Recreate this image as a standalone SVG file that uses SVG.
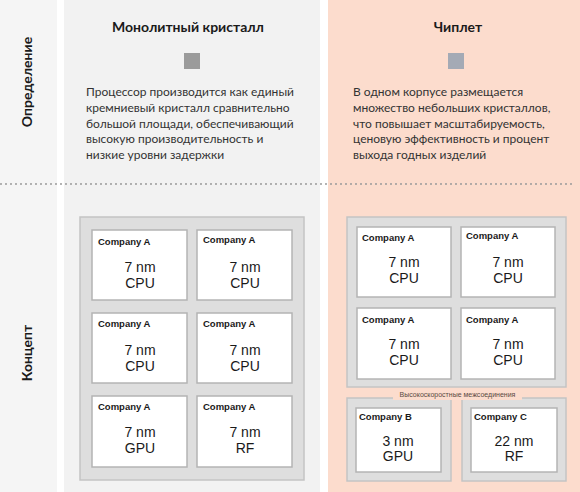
<svg xmlns="http://www.w3.org/2000/svg" width="580" height="492" viewBox="0 0 580 492">
<style>
.hdr{font-family:Lato,"Noto Sans",sans-serif;font-weight:bold;font-size:14px;fill:#1a1a1a;text-anchor:middle}
.side{font-family:Lato,"Noto Sans",sans-serif;font-weight:bold;font-size:14px;fill:#1a1a1a;text-anchor:middle}
.para{font-family:Lato,"Noto Sans",sans-serif;font-size:12px;fill:#333}
.co{font-family:"Liberation Sans",Arial,sans-serif;font-weight:bold;font-size:9.5px;fill:#1a1a1a}
.big{font-family:"Liberation Sans",Arial,sans-serif;font-size:14px;fill:#1a1a1a;text-anchor:middle}
.outer{fill:#dedede;stroke:#c4c4c4;stroke-width:1.5}
.chip{fill:#ffffff;stroke:#b4b4b4;stroke-width:1.5}
.small{font-family:"Liberation Sans",Arial,sans-serif;font-size:7px;fill:#5a4a42;text-anchor:middle}
</style>
<!-- backgrounds -->
<rect x="0" y="0" width="57" height="492" fill="#f5f5f5"/>
<rect x="64" y="0" width="256" height="492" fill="#f2f2f2"/>
<rect x="328" y="0" width="252" height="492" fill="#fcdccd"/>
<line x1="1" y1="184" x2="576" y2="184" stroke="#9a9a9a" stroke-width="2" stroke-linecap="round" stroke-dasharray="0 5"/>

<g id="label-definition"><text class="side" transform="translate(32,82) rotate(-90)">Определение</text></g>
<g id="label-concept"><text class="side" transform="translate(32,353) rotate(-90)">Концепт</text></g>

<g id="monolithic-def">
<text class="hdr" x="188" y="32">Монолитный кристалл</text>
<rect x="184" y="53" width="16" height="16" fill="#9b9b9b"/>
<text class="para"><tspan x="86" y="96">Процессор производится как единый</tspan><tspan x="86" y="112">кремниевый кристалл сравнительно</tspan><tspan x="86" y="128">большой площади, обеспечивающий</tspan><tspan x="86" y="143">высокую производительность и</tspan><tspan x="86" y="159">низкие уровни задержки</tspan></text>
</g>

<g id="chiplet-def">
<text class="hdr" x="458" y="32">Чиплет</text>
<rect x="448" y="53" width="16" height="16" fill="#a4aab5"/>
<text class="para"><tspan x="353" y="96">В одном корпусе размещается</tspan><tspan x="353" y="112">множество небольших кристаллов,</tspan><tspan x="353" y="128">что повышает масштабируемость,</tspan><tspan x="353" y="143">ценовую эффективность и процент</tspan><tspan x="353" y="159">выхода годных изделий</tspan></text>
</g>

<g id="monolithic-die">
<rect class="outer" x="80" y="217" width="224" height="263"/>
<g id="m1"><rect class="chip" x="92" y="230" width="95" height="70"/><text class="co" x="98" y="245">Company A</text><text class="big" x="140" y="272">7 nm</text><text class="big" x="140" y="288">CPU</text></g>
<g id="m2"><rect class="chip" x="197" y="230" width="95" height="70"/><text class="co" x="203" y="243">Company A</text><text class="big" x="245" y="272">7 nm</text><text class="big" x="245" y="288">CPU</text></g>
<g id="m3"><rect class="chip" x="92" y="313" width="95" height="70"/><text class="co" x="98" y="327">Company A</text><text class="big" x="140" y="355">7 nm</text><text class="big" x="140" y="371">CPU</text></g>
<g id="m4"><rect class="chip" x="197" y="313" width="95" height="70"/><text class="co" x="203" y="327">Company A</text><text class="big" x="245" y="355">7 nm</text><text class="big" x="245" y="371">CPU</text></g>
<g id="m5"><rect class="chip" x="92" y="396" width="95" height="71"/><text class="co" x="98" y="410">Company A</text><text class="big" x="140" y="437">7 nm</text><text class="big" x="140" y="453">GPU</text></g>
<g id="m6"><rect class="chip" x="197" y="396" width="95" height="71"/><text class="co" x="203" y="410">Company A</text><text class="big" x="245" y="437">7 nm</text><text class="big" x="245" y="453">RF</text></g>
</g>

<g id="chiplet-package">
<rect class="outer" x="347" y="217" width="219" height="170" stroke-width="2"/>
<g id="c1"><rect class="chip" x="357" y="227" width="94" height="70"/><text class="co" x="362" y="241">Company A</text><text class="big" x="404" y="267">7 nm</text><text class="big" x="404" y="283">CPU</text></g>
<g id="c2"><rect class="chip" x="461" y="227" width="94" height="70"/><text class="co" x="466" y="239">Company A</text><text class="big" x="508" y="267">7 nm</text><text class="big" x="508" y="283">CPU</text></g>
<g id="c3"><rect class="chip" x="357" y="308" width="94" height="71"/><text class="co" x="362" y="323">Company A</text><text class="big" x="404" y="349">7 nm</text><text class="big" x="404" y="365">CPU</text></g>
<g id="c4"><rect class="chip" x="461" y="308" width="94" height="71"/><text class="co" x="466" y="323">Company A</text><text class="big" x="508" y="349">7 nm</text><text class="big" x="508" y="365">CPU</text></g>
<rect class="outer" x="347" y="398" width="104" height="83" stroke-width="2"/>
<rect class="outer" x="462" y="398" width="104" height="83" stroke-width="2"/>
<rect x="393" y="389" width="129" height="11" fill="#fcdccd"/>
<text class="small" x="457.5" y="397">Высокоскоростные межсоединения</text>
<g id="c5"><rect class="chip" x="356" y="408" width="85" height="64"/><text class="co" x="359" y="420">Company B</text><text class="big" x="398" y="446">3 nm</text><text class="big" x="398" y="461">GPU</text></g>
<g id="c6"><rect class="chip" x="471" y="408" width="86" height="64"/><text class="co" x="474" y="420">Company C</text><text class="big" x="514" y="446">22 nm</text><text class="big" x="514" y="461">RF</text></g>
</g>
<g id="connectors"></g>
</svg>
